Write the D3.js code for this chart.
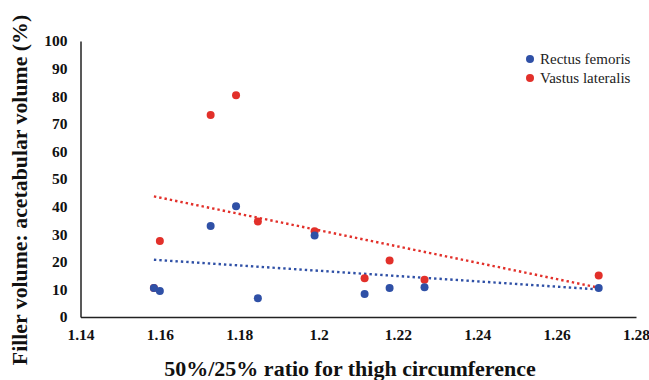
<!DOCTYPE html>
<html>
<head>
<meta charset="utf-8">
<script src="https://cdn.jsdelivr.net/npm/d3@7"></script>
<style>
  body { margin: 0; background: #fff; }
  svg text { font-family: "Liberation Serif", "Times New Roman", serif !important; }
</style>
</head>
<body>
<div id="chart"></div>
<script>
// data
var xTicks = [1.14, 1.16, 1.18, 1.2, 1.22, 1.24, 1.26, 1.28];
var yTicks = [0, 10, 20, 30, 40, 50, 60, 70, 80, 90, 100];

var seriesNames = ["Rectus femoris", "Vastus lateralis"];
var seriesColors = ["#2f50a6", "#e2302a"];

var ratioX = [1.1585, 1.160, 1.1728, 1.1792, 1.1847, 1.199, 1.2116, 1.2179, 1.2267, 1.2706];
var rectusY = [10.5, 9.4, 33.0, 40.1, 6.8, 29.5, 8.3, 10.5, 10.8, 10.5];
var vastusY = [10.5, 27.5, 73.2, 80.3, 34.6, 31.1, 14.0, 20.5, 13.5, 15.0];

var width = 649, height = 380;
var margin = { top: 41, right: 13, bottom: 63, left: 80.5 };

var svg = d3.select("#chart")
  .append("svg")
  .attr("width", width)
  .attr("height", height);

var x = d3.scaleLinear()
  .domain([1.14, 1.28])
  .range([margin.left, width - margin.right]);

var y = d3.scaleLinear()
  .domain([0, 100])
  .range([height - margin.bottom, margin.top]);

// axes
var xAxis = svg.append("g")
  .attr("transform", "translate(0," + y(0) + ")")
  .call(d3.axisBottom(x).tickValues(xTicks).tickSize(0).tickPadding(12)
    .tickFormat(function (d) { return String(+d.toFixed(2)); }));

var yAxis = svg.append("g")
  .attr("transform", "translate(" + x(1.14) + ",0)")
  .call(d3.axisLeft(y).tickValues(yTicks).tickSize(0).tickPadding(13));

[xAxis, yAxis].forEach(function (g) {
  g.attr("font-family", null);
  g.select(".domain").attr("stroke", "#222").attr("stroke-width", 1.5);
  g.selectAll("text")
    .style("font-family", "'Liberation Serif', 'Times New Roman', serif")
    .attr("font-weight", "bold")
    .attr("font-size", 15.5)
    .attr("fill", "#111");
});

// axis titles
svg.append("text")
  .attr("x", 350)
  .attr("y", 376)
  .attr("text-anchor", "middle")
  .attr("font-weight", "bold")
  .attr("font-size", 22)
  .attr("fill", "#111")
  .text("50%/25% ratio for thigh circumference");

svg.append("text")
  .attr("transform", "translate(27,190) rotate(-90)")
  .attr("text-anchor", "middle")
  .attr("font-weight", "bold")
  .attr("font-size", 21.8)
  .attr("fill", "#111")
  .text("Filler volume: acetabular volume (%)");

// linear trend lines
function fit(xs, ys) {
  var mx = d3.mean(xs), my = d3.mean(ys);
  var sxy = d3.sum(xs, function (v, i) { return (v - mx) * (ys[i] - my); });
  var sxx = d3.sum(xs, function (v) { return (v - mx) * (v - mx); });
  var b = sxy / sxx;
  return function (v) { return my + b * (v - mx); };
}

var allY = [rectusY, vastusY];
var x0 = d3.min(ratioX), x1 = d3.max(ratioX);

[1, 0].forEach(function (s) {
  var f = fit(ratioX, allY[s]);
  svg.append("line")
    .attr("x1", x(x0)).attr("y1", y(f(x0)))
    .attr("x2", x(x1)).attr("y2", y(f(x1)))
    .attr("stroke", seriesColors[s])
    .attr("stroke-width", 2.4)
    .attr("stroke-dasharray", "2.4,3");
});

// points, vastus drawn first so rectus sits on top
[1, 0].forEach(function (s) {
  svg.append("g")
    .selectAll("circle")
    .data(allY[s])
    .enter()
    .append("circle")
    .attr("cx", function (d, i) { return x(ratioX[i]); })
    .attr("cy", function (d) { return y(d); })
    .attr("r", 4)
    .attr("fill", seriesColors[s]);
});

// legend
var legend = svg.append("g").attr("transform", "translate(530,59)");
seriesNames.forEach(function (name, i) {
  var row = legend.append("g").attr("transform", "translate(0," + i * 19 + ")");
  row.append("circle").attr("r", 4).attr("fill", seriesColors[i]);
  row.append("text")
    .attr("x", 10)
    .attr("y", 5)
    .attr("font-size", 15)
    .attr("fill", "#222")
    .text(name);
});
</script>
</body>
</html>
